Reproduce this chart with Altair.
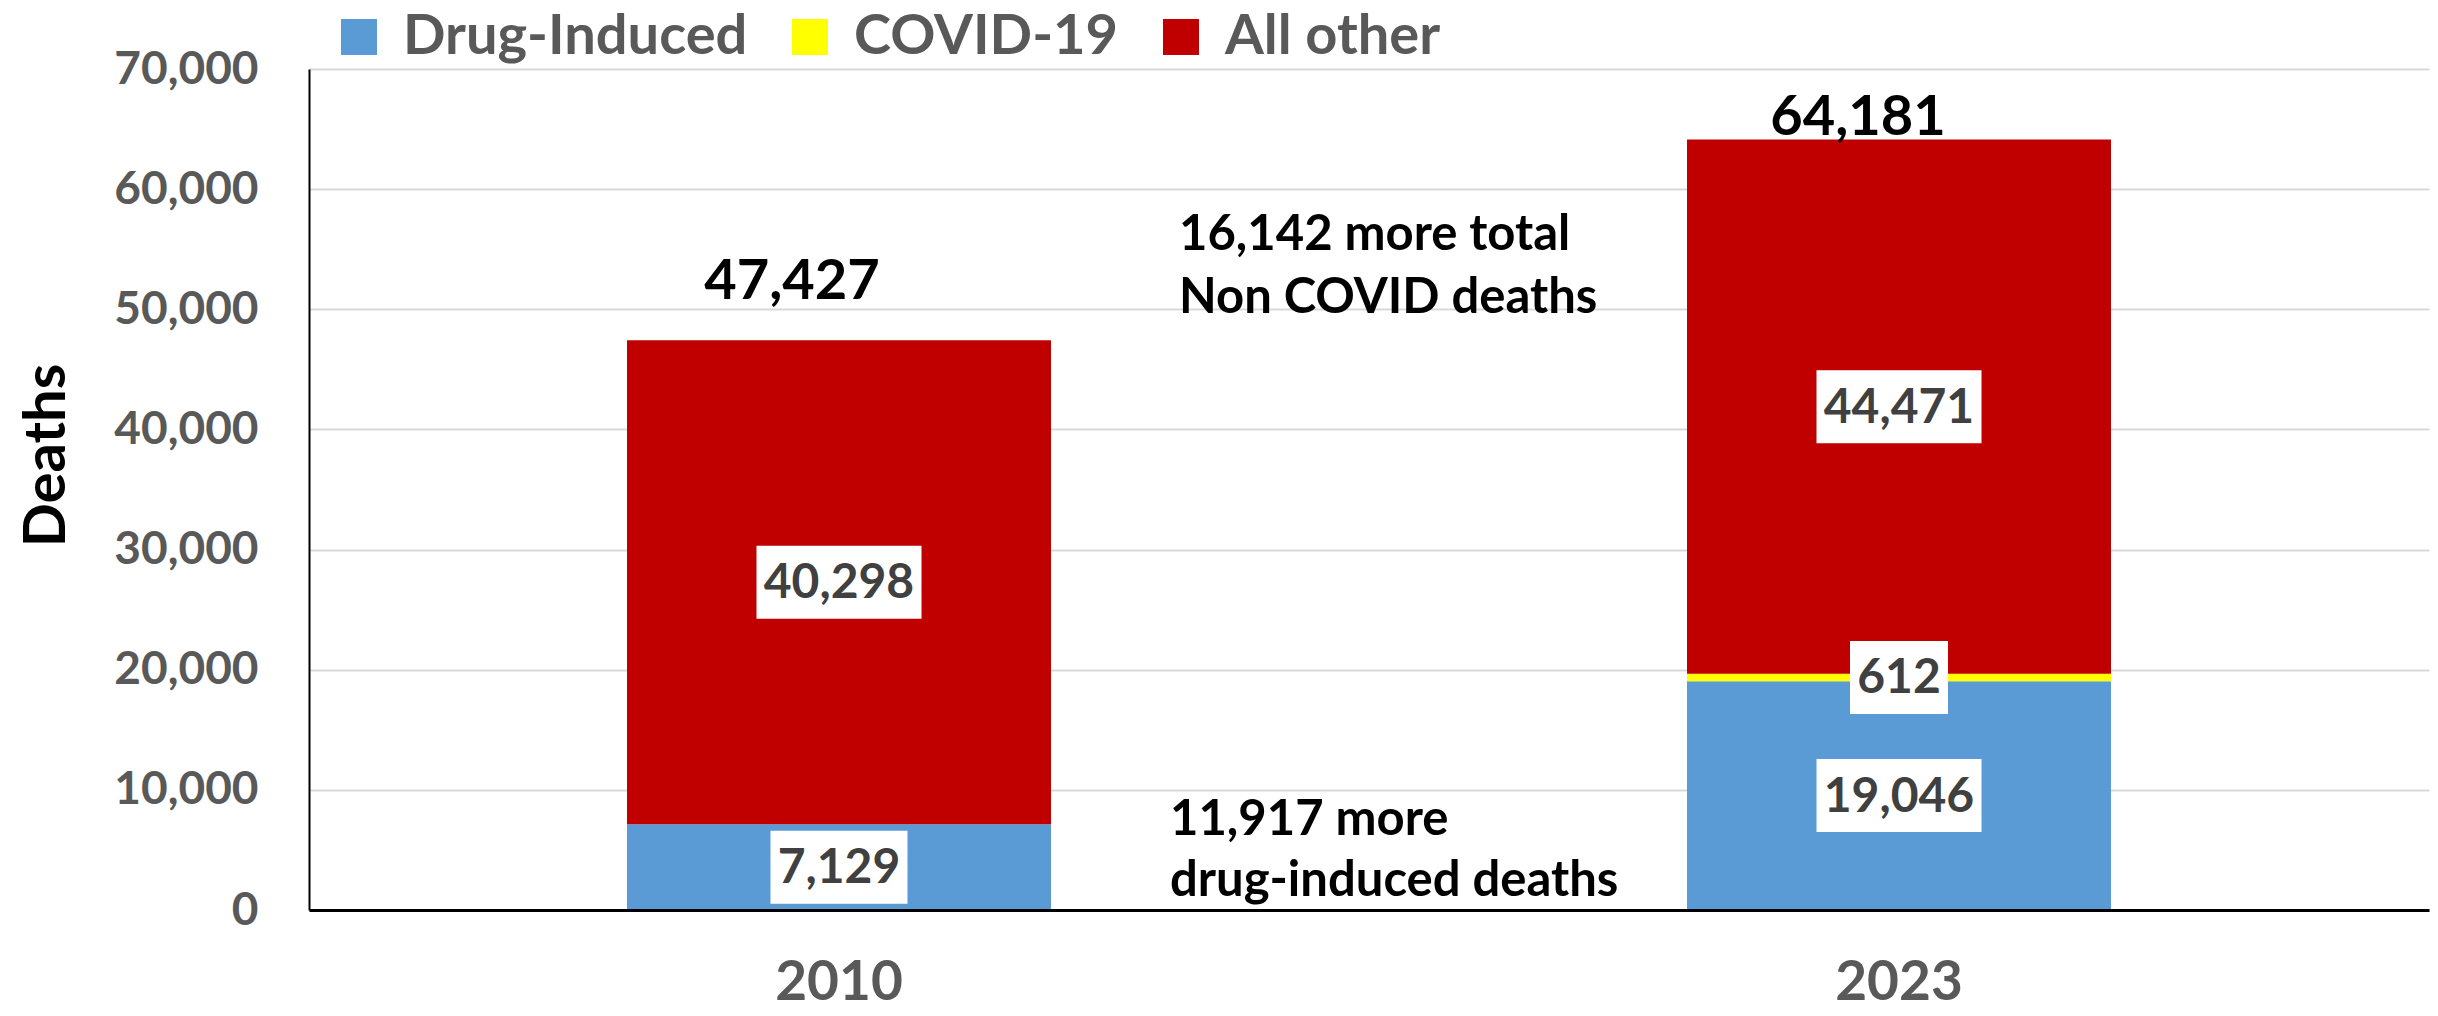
import altair as alt
import pandas as pd

# ---- data ----
years = ["2010", "2023"]
categories = ["Drug-Induced", "COVID-19", "All other"]
drug_induced = [7129, 19046]
covid_19 = [0, 612]
all_other = [40298, 44471]
totals = [47427, 64181]
y_ticks = [0, 10000, 20000, 30000, 40000, 50000, 60000, 70000]
colors = ["#5B9BD5", "#FFFF00", "#C00000"]
note_total = ["16,142 more total", "Non COVID deaths"]
note_drug = ["11,917 more", "drug-induced deaths"]

series = [drug_induced, covid_19, all_other]
rows = []
for i, yr in enumerate(years):
    for k, cat in enumerate(categories):
        rows.append({"year": yr, "cause": cat, "deaths": series[k][i], "order": k})
df = pd.DataFrame(rows)
tot_df = pd.DataFrame({"year": years, "total": totals})
one_row = pd.DataFrame({"i": [0]})

FONT = "Lato"
GRAY = "#595959"

x_enc = alt.X(
    "year:N",
    title=None,
    scale=alt.Scale(paddingInner=0.6, paddingOuter=0.3),
    axis=alt.Axis(
        labelAngle=0, ticks=False, grid=False, domainColor="black", domainWidth=3,
        labelFont=FONT, labelFontSize=55, labelFontWeight="bold", labelColor=GRAY,
        labelPadding=46, labelBaseline="top", zindex=1,
    ),
)
y_scale = alt.Scale(domain=[0, 70000], nice=False)
y_axis = alt.Axis(
    values=y_ticks, labelExpr="format(datum.value, ',')", grid=True,
    gridColor="#d9d9d9", gridWidth=2,
    ticks=False, domainColor="black", domainWidth=2,
    labelFont=FONT, labelFontSize=46, labelFontWeight="bold", labelColor=GRAY,
    labelPadding=51, title="Deaths", titleFont=FONT, titleFontSize=58,
    titleFontWeight="bold", titleColor="black", titleAngle=270,
    titleX=-245, titleY=386, titleBaseline="alphabetic", titleAlign="center",
)

bars = alt.Chart(df).mark_bar().encode(
    x=x_enc,
    y=alt.Y("deaths:Q", stack="zero", scale=y_scale, axis=y_axis, title="Deaths"),
    color=alt.Color(
        "cause:N",
        scale=alt.Scale(domain=categories, range=colors),
        legend=alt.Legend(
            title=None, orient="none", legendX=22, legendY=-60, direction="horizontal",
            symbolType="square", symbolSize=1296, symbolStrokeWidth=0, symbolOpacity=1,
            labelFont=FONT, labelFontSize=56, labelFontWeight="bold", labelColor=GRAY,
            labelOffset=16, columnPadding=34, padding=0, labelLimit=0,
        ),
    ),
    order=alt.Order("order:Q"),
)

seg = (
    alt.Chart(df)
    .transform_filter("datum.deaths > 0")
    .transform_stack(stack="deaths", groupby=["year"], sort=[alt.SortField("order")], as_=["y0", "y1"])
    .transform_calculate(
        mid="(datum.y0 + datum.y1) / 2",
        hw="(14 + 28 * length(toString(datum.deaths)) + (datum.deaths >= 1000 ? 11 : 0)) / 200",
    )
    .transform_calculate(
        box="'M' + (-datum.hw) + ',-0.365H' + datum.hw + 'V0.365H' + (-datum.hw) + 'Z'"
    )
)

boxes = seg.mark_point(filled=True, fill="white", opacity=1, strokeWidth=0, size=40000).encode(
    x=x_enc,
    y=alt.Y("mid:Q", scale=y_scale, axis=y_axis, title="Deaths"),
    shape=alt.Shape("box:N", scale=None, legend=None),
)

seg_text = seg.mark_text(
    font=FONT, fontSize=48, fontWeight="bold", color="#404040", baseline="middle", dy=2
).encode(
    x=x_enc,
    y=alt.Y("mid:Q", scale=y_scale, axis=y_axis, title="Deaths"),
    text=alt.Text("deaths:Q", format=","),
)

def total_layer(year, dx, dy):
    return (
        alt.Chart(tot_df)
        .transform_filter(alt.datum.year == year)
        .mark_text(font=FONT, fontSize=56, fontWeight="bold", color="black",
                   baseline="alphabetic", dx=dx, dy=dy)
        .encode(
            x=x_enc,
            y=alt.Y("total:Q", scale=y_scale, axis=y_axis, title="Deaths"),
            text=alt.Text("total:Q", format=","),
        )
    )

tot_2010 = total_layer("2010", -47, -41)
tot_2023 = total_layer("2023", -41, -4)

ann1 = alt.Chart(one_row).mark_text(
    text=note_total, font=FONT, fontSize=49, fontWeight="bold", color="black",
    align="left", baseline="alphabetic", lineHeight=63,
).encode(x=alt.value(870), y=alt.value(181))

ann2 = alt.Chart(one_row).mark_text(
    text=note_drug, font=FONT, fontSize=49, fontWeight="bold", color="black",
    align="left", baseline="alphabetic", lineHeight=61,
).encode(x=alt.value(861), y=alt.value(766))

chart = (
    alt.layer(bars, boxes, seg_text, tot_2010, tot_2023, ann1, ann2)
    .properties(
        width=2120, height=841,
        autosize=alt.AutoSizeParams(type="none"),
        padding={"left": 301, "top": 61, "right": 1, "bottom": 92},
    )
    .configure_view(stroke=None)
)

chart.save("out.html", embed_options={"renderer": "svg", "actions": False})
